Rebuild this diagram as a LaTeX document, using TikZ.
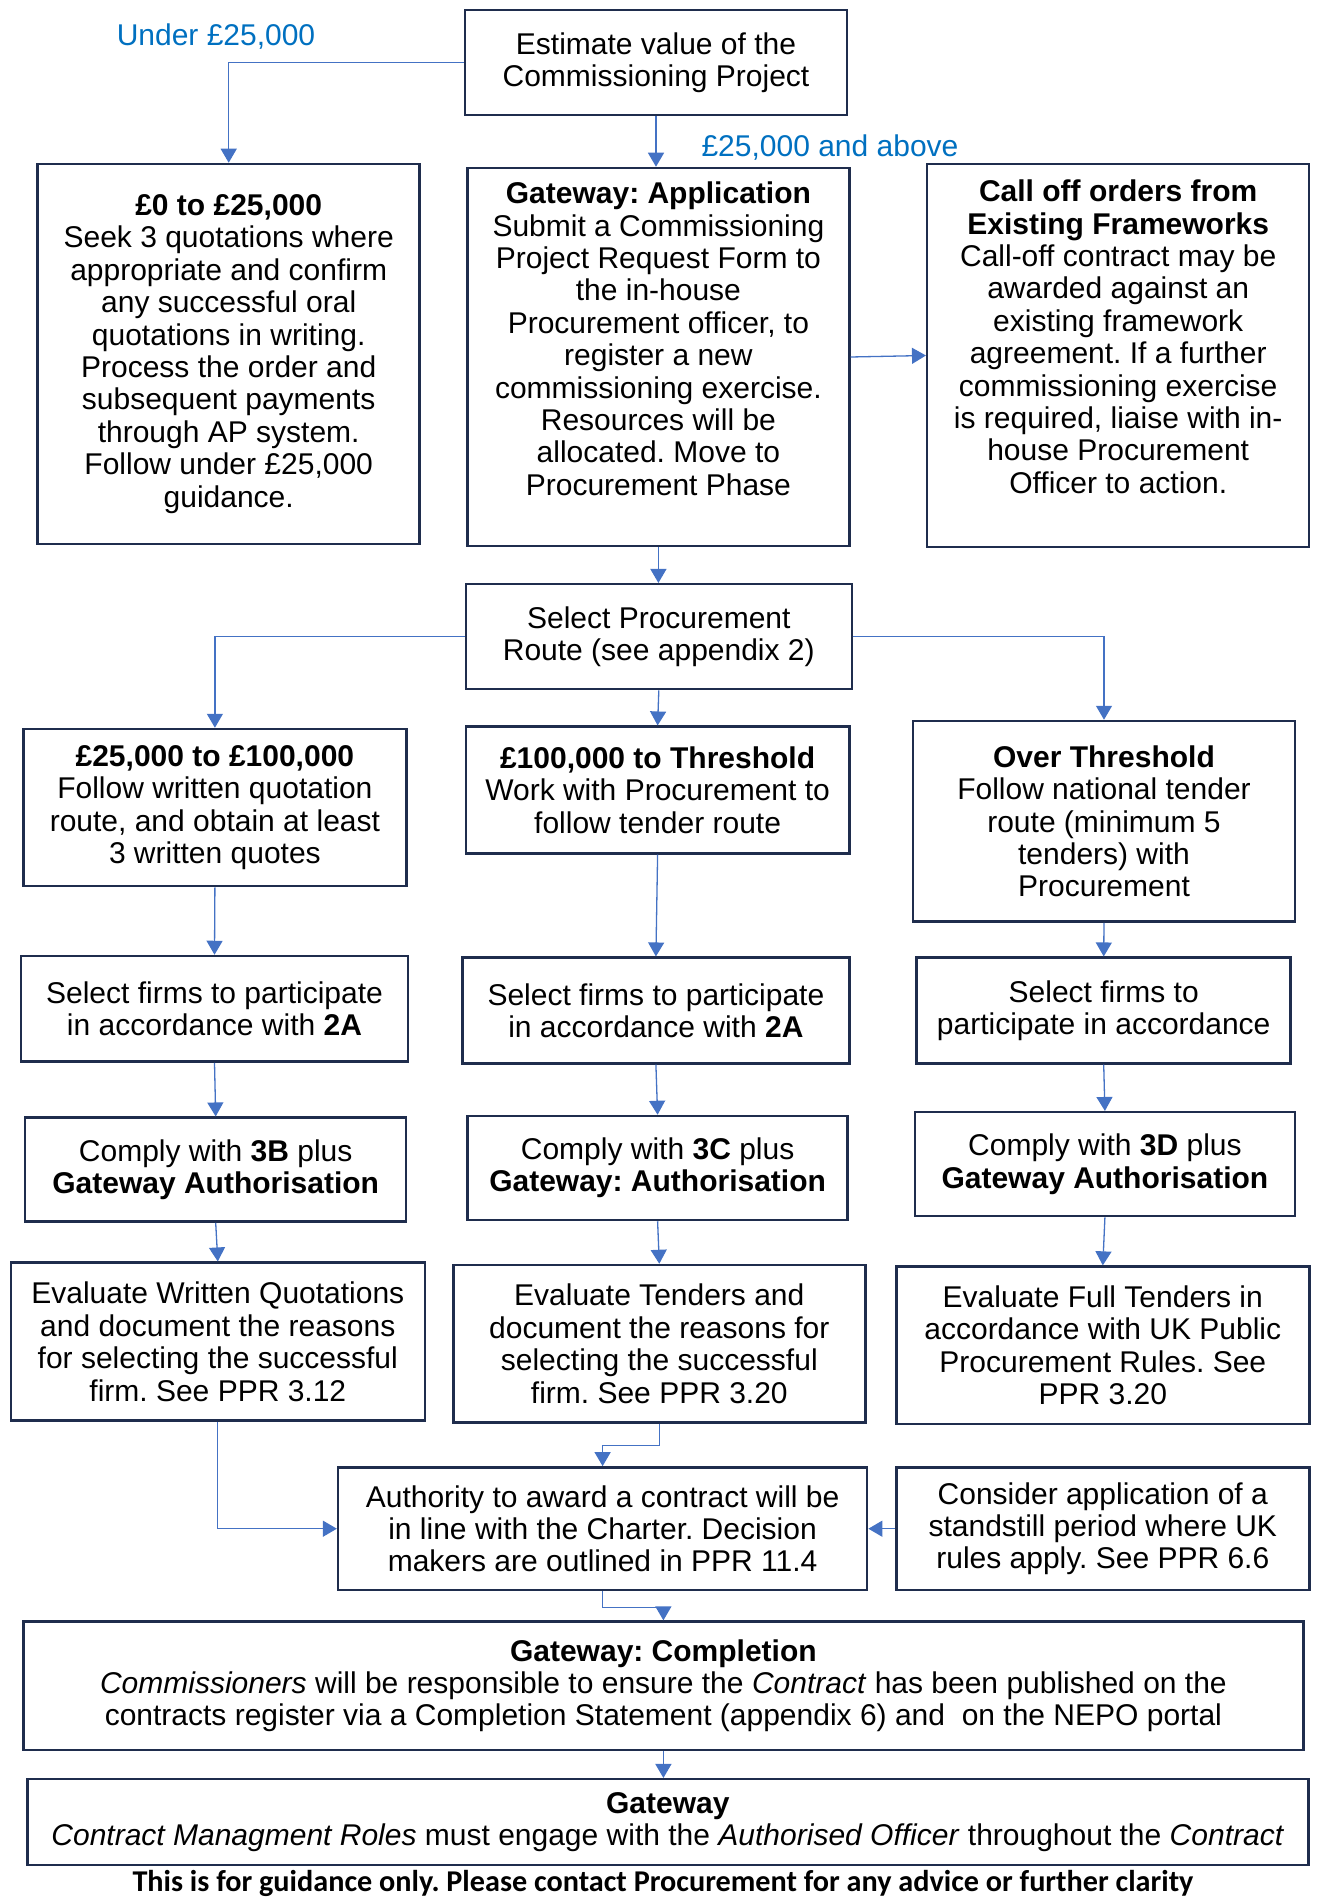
\documentclass[tikz,border=0pt]{standalone}
\usepackage{fontspec}
\setmainfont{Liberation Sans}
\newfontfamily\footfont{Carlito}
\usetikzlibrary{arrows.meta, positioning}
\definecolor{boxline}{HTML}{1F2D4D}
\definecolor{flow}{HTML}{4472C4}
\definecolor{route}{HTML}{0070C0}
\frenchspacing

% text set from the top of a fixed-height box
\newcommand{\topalign}[3]{\parbox[c][#1][t]{#2}{\centering #3}}

\begin{document}
\begin{tikzpicture}[x=0.5pt, y=-0.5pt,
    stage/.style={rectangle, draw=boxline, line width=1.25pt, fill=white,
                  inner sep=0pt, align=center,
                  font=\fontsize{15pt}{16.2pt}\selectfont},
    flowline/.style={draw=flow, line width=0.65pt, -{Triangle[length=7pt, width=8pt]}},
    routelabel/.style={text=route, font=\fontsize{15pt}{16.2pt}\selectfont}]

    \useasboundingbox (0,0) rectangle (1316,1899);

    % Estimate and first split
    \node[stage, minimum width=191pt, minimum height=52.5pt] (est) at (656,62.5)
        {Estimate value of the\\Commissioning Project};
    \node[routelabel] (under) at (216,37) {Under £25,000};
    \node[routelabel] (above) at (830,148) {£25,000 and above};

    \node[stage, minimum width=191pt, minimum height=190pt] (q0) at (228.7,354)
        {\textbf{£0 to £25,000}\\Seek 3 quotations where\\appropriate and confirm\\any successful oral\\quotations in writing.\\Process the order and\\subsequent payments\\through AP system.\\Follow under £25,000\\guidance.};
    \node[stage, minimum width=191pt, minimum height=189pt] (ga) at (658.4,357)
        {\topalign{175pt}{190pt}{\textbf{Gateway: Application}\\Submit a Commissioning\\Project Request Form to\\the in-house\\Procurement officer, to\\register a new\\commissioning exercise.\\Resources will be\\allocated. Move to\\Procurement Phase}};
    \node[stage, minimum width=191pt, minimum height=191.5pt] (co) at (1118.2,355.5)
        {\topalign{175.5pt}{190pt}{\textbf{Call off orders from}\\\textbf{Existing Frameworks}\\Call-off contract may be\\awarded against an\\existing framework\\agreement. If a further\\commissioning exercise\\is required, liaise with in-\\house Procurement\\Officer to action.}};

    % Procurement route
    \node[stage, minimum width=193pt, minimum height=52.5pt] (spr) at (658.8,636.7)
        {Select Procurement\\Route (see appendix 2)};
    \node[stage, minimum width=191.5pt, minimum height=78.5pt] (q25) at (214.9,807.5)
        {\textbf{£25,000 to £100,000}\\Follow written quotation\\route, and obtain at least\\3 written quotes};
    \node[stage, minimum width=191.75pt, minimum height=63.3pt] (q100) at (657.6,790)
        {\textbf{£100,000 to Threshold}\\Work with Procurement to\\follow tender route};
    \node[stage, minimum width=191pt, minimum height=100.3pt] (ot) at (1104,821.3)
        {\textbf{Over Threshold}\\Follow national tender\\route (minimum 5\\tenders) with\\Procurement};

    % Select firms
    \node[stage, minimum width=193.5pt, minimum height=52.8pt] (selL) at (214.5,1008.8)
        {Select firms to participate\\in accordance with \textbf{2A}};
    \node[stage, minimum width=193.5pt, minimum height=52.8pt] (selM) at (655.9,1010.5)
        {Select firms to participate\\in accordance with \textbf{2A}};
    \node[stage, minimum width=187pt, minimum height=52.8pt] (selR) at (1103.7,1010.5)
        {Select firms to\\participate in accordance};

    % Comply
    \node[stage, minimum width=190.5pt, minimum height=52pt] (c3b) at (215.7,1169.7)
        {Comply with \textbf{3B} plus\\\textbf{Gateway Authorisation}};
    \node[stage, minimum width=190pt, minimum height=52pt] (c3c) at (657.6,1168)
        {Comply with \textbf{3C} plus\\\textbf{Gateway: Authorisation}};
    \node[stage, minimum width=190pt, minimum height=52pt] (c3d) at (1104.9,1164.2)
        {Comply with \textbf{3D} plus\\\textbf{Gateway Authorisation}};

    % Evaluate
    \node[stage, minimum width=207pt, minimum height=79pt] (evW) at (217.8,1341.7)
        {Evaluate Written Quotations\\and document the reasons\\for selecting the successful\\firm. See PPR 3.12};
    \node[stage, minimum width=206pt, minimum height=78.7pt] (evT) at (659.3,1343.7)
        {Evaluate Tenders and\\document the reasons for\\selecting the successful\\firm. See PPR 3.20};
    \node[stage, minimum width=206.5pt, minimum height=78.7pt] (evF) at (1102.8,1345.3)
        {Evaluate Full Tenders in\\accordance with UK Public\\Procurement Rules. See\\PPR 3.20};

    % Award and completion
    \node[stage, minimum width=264.5pt, minimum height=61.3pt] (auth) at (602.6,1528.7)
        {Authority to award a contract will be\\in line with the Charter. Decision\\makers are outlined in PPR 11.4};
    \node[stage, minimum width=206.5pt, minimum height=61.3pt] (con) at (1102.8,1528.7)
        {Consider application of a\\standstill period where UK\\rules apply. See PPR 6.6};
    \node[stage, minimum width=640pt, minimum height=64.2pt] (gc) at (663.4,1685.8)
        {\textbf{Gateway: Completion}\\\textit{Commissioners} will be responsible to ensure the \textit{Contract} has been published on the\\contracts register via a Completion Statement (appendix 6) and \ on the NEPO portal};
    \node[stage, minimum width=640.5pt, minimum height=42.8pt] (gw) at (667.8,1822)
        {\textbf{Gateway}\\\textit{Contract Managment Roles} must engage with the \textit{Authorised Officer} throughout the \textit{Contract}};
    \node[font=\footfont\bfseries\fontsize{15.1pt}{17pt}\selectfont] (note) at (663,1883)
        {This is for guidance only. Please contact Procurement for any advice or further clarity};

    % Arrows
    \draw[flowline] (est.west) -| (q0.north);
    \draw[flowline] (est.south) -- (est.south |- ga.north);
    \draw[flowline] (ga.east) -- (co.west);
    \draw[flowline] (ga.south) -- (ga.south |- spr.north);
    \draw[flowline] (spr.west) -| (q25.north);
    \draw[flowline] (spr.south) -- (q100.north);
    \draw[flowline] (spr.east) -| (ot.north);
    \draw[flowline] (q25.south) -- (selL.north);
    \draw[flowline] (q100.south) -- (selM.north);
    \draw[flowline] (ot.south) -- (selR.north);
    \draw[flowline] (selL.south) -- (c3b.north);
    \draw[flowline] (selM.south) -- (c3c.north);
    \draw[flowline] (selR.south) -- (c3d.north);
    \draw[flowline] (c3b.south) -- (evW.north);
    \draw[flowline] (c3c.south) -- (evT.north);
    \draw[flowline] (c3d.south) -- (evF.north);
    \draw[flowline] (evW.south) |- (auth.west);
    \draw[flowline] (evT.south) -- ++(0,22) -| (auth.north);
    \draw[flowline] (con.west) -- (auth.east);
    \draw[flowline] (auth.south) -- ++(0,16) -| (gc.north);
    \draw[flowline] (gc.south) -- (gc.south |- gw.north);
\end{tikzpicture}
\end{document}
